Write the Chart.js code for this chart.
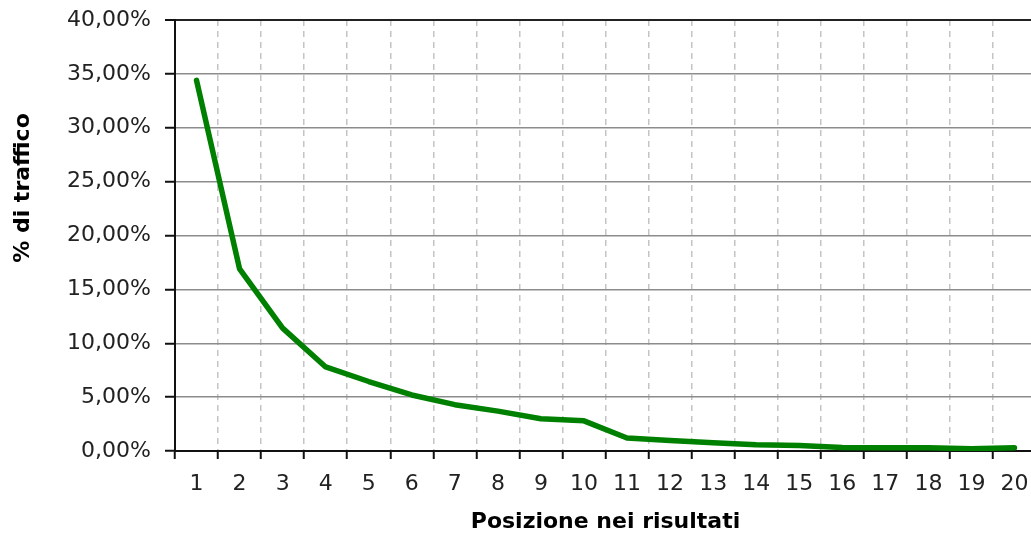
<!DOCTYPE html>
<html lang="it">
<head>
    <meta charset="UTF-8">
    <title>% di traffico</title>
    <script src="https://cdn.jsdelivr.net/npm/chart.js@4.4.1/dist/chart.umd.min.js"></script>
    <style>
        html, body {margin: 0; padding: 0; overflow: hidden; background: #ffffff;}
        #chartDom {position: absolute; left: 0; top: 0; width: 1040px; height: 535px;}
    </style>
</head>
<body>
<div id="chartDom"><canvas id="traffico"></canvas></div>
<script>
    // posizione nei risultati
    const posizioni = ['1', '2', '3', '4', '5', '6', '7', '8', '9', '10',
        '11', '12', '13', '14', '15', '16', '17', '18', '19', '20'];
    // % di traffico
    const traffico = [34.4, 16.9, 11.4, 7.8, 6.45, 5.2, 4.3, 3.7, 3.0, 2.8,
        1.2, 0.97, 0.76, 0.57, 0.5, 0.32, 0.3, 0.3, 0.22, 0.3];
    const yTicks = [0, 5, 10, 15, 20, 25, 30, 35, 40];

    Chart.defaults.font.family = "'DejaVu Sans', Verdana, sans-serif";

    // titolo asse Y disegnato a mano (non centrato sull'area del grafico)
    const yTitle = {
        id: 'yTitle',
        afterDraw(chart) {
            const ctx = chart.ctx;
            ctx.save();
            ctx.translate(23, 188);
            ctx.rotate(-Math.PI / 2);
            ctx.font = "bold 22px 'DejaVu Sans', Verdana, sans-serif";
            ctx.fillStyle = '#000';
            ctx.textAlign = 'center';
            ctx.textBaseline = 'middle';
            ctx.fillText('% di traffico', 0, 0);
            ctx.restore();
        }
    };

    new Chart(document.getElementById('traffico'), {
        type: 'line',
        data: {
            labels: posizioni,
            datasets: [{
                data: traffico,
                borderColor: '#008000',
                borderWidth: 5.5,
                borderJoinStyle: 'round',
                borderCapStyle: 'round',
                pointRadius: 0,
                tension: 0,
                fill: false
            }]
        },
        options: {
            responsive: true,
            maintainAspectRatio: false,
            animation: false,
            layout: {padding: {top: 20, right: 4, left: 0, bottom: 0}},
            plugins: {legend: {display: false}, tooltip: {enabled: false}},
            scales: {
                x: {
                    offset: true,
                    grid: {
                        offset: true,
                        color: '#c4c4c4',
                        lineWidth: 1.5,
                        tickLength: 8,
                        tickColor: '#111',
                        tickWidth: 2
                    },
                    border: {color: '#111', width: 2, dash: [6, 5]},
                    ticks: {color: '#222', font: {size: 22}, padding: 12, maxRotation: 0, autoSkip: false},
                    title: {
                        display: true,
                        text: 'Posizione nei risultati',
                        color: '#000',
                        font: {size: 22, weight: 'bold'},
                        padding: {top: 8, bottom: 0}
                    },
                    afterFit: s => { s.height = 84; s.paddingLeft = 0; s.paddingRight = 0; }
                },
                y: {
                    min: 0,
                    max: 40,
                    afterBuildTicks: s => { s.ticks = yTicks.map(v => ({value: v})); },
                    grid: {
                        color: c => (c.tick && c.tick.value === 40) ? '#222' : '#8c8c8c',
                        lineWidth: c => (c.tick && c.tick.value === 40) ? 2 : 1.5,
                        tickLength: 10,
                        tickColor: '#111',
                        tickWidth: 2
                    },
                    border: {color: '#111', width: 2},
                    ticks: {
                        color: '#222',
                        font: {size: 22},
                        padding: 14,
                        callback: v => v.toFixed(2).replace('.', ',') + '%'
                    },
                    afterFit: s => { s.width = 175; s.paddingTop = 0; s.paddingBottom = 0; }
                }
            }
        },
        plugins: [yTitle]
    });
</script>
</body>
</html>
